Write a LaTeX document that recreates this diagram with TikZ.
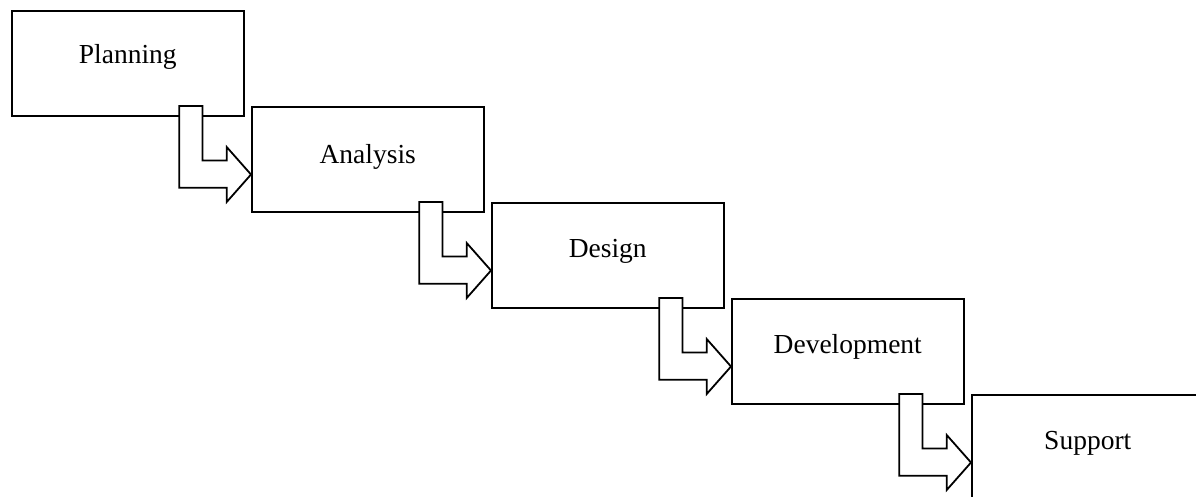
\documentclass[tikz,border=0pt]{standalone}
\usepackage{fontspec}
\setmainfont{Liberation Serif}
\usetikzlibrary{calc}
\begin{document}
\begin{tikzpicture}[x=1pt,y=-1pt,
  stage/.style={draw=black, line width=1.8pt, fill=white,
    minimum width=231.7pt, minimum height=105.3pt, inner sep=0pt,
    anchor=north west, text height=20pt, text depth=15.3pt,
    font=\fontsize{27.5}{33}\selectfont},
  bentarrow/.style={draw=black, line width=1.8pt, fill=white, line join=miter}]
\useasboundingbox (0,0) rectangle (1196,496);
\clip (0,0) rectangle (1196,496);
\node[stage] (p) at (11,10) {\raisebox{2pt}{Planning}};
\node[stage] (a) at (251,106) {\raisebox{-2pt}{Analysis}};
\node[stage] (d) at (491,202) {Design};
\node[stage] (v) at (731,298) {Development};
\node[stage] (s) at (971,394) {Support};
\foreach \u/\w in {p/a,a/d,d/v,v/s}{
  \draw[bentarrow] ($(\u.north west)+(168.3,96)$) -- ($(\u.north west)+(191.5,96)$)
    -- ($(\u.north west)+(191.5,150.5)$) -- ($(\u.north west)+(215.7,150.5)$)
    -- ($(\u.north west)+(215.7,137)$) -- ($(\w.north west)+(0,68.5)$)
    -- ($(\u.north west)+(215.7,192)$) -- ($(\u.north west)+(215.7,177.7)$)
    -- ($(\u.north west)+(168.3,177.7)$) -- cycle;
}
\end{tikzpicture}
\end{document}
